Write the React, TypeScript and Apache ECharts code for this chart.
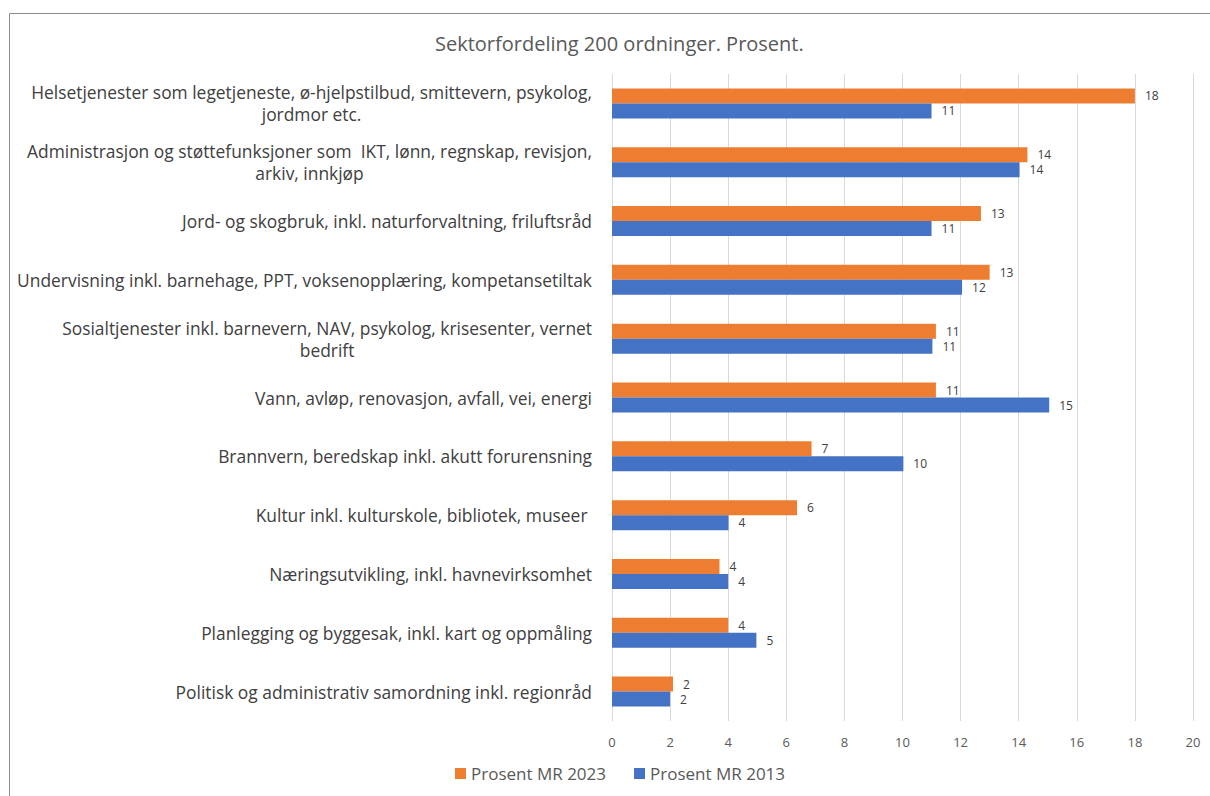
import React, { useEffect, useRef } from "react";
import * as echarts from "echarts";

const categories: string[] = [
  "Helsetjenester som legetjeneste, ø-hjelpstilbud, smittevern, psykolog,\njordmor etc.",
  "Administrasjon og støttefunksjoner som  IKT, lønn, regnskap, revisjon,\narkiv, innkjøp",
  "Jord- og skogbruk, inkl. naturforvaltning, friluftsråd",
  "Undervisning inkl. barnehage, PPT, voksenopplæring, kompetansetiltak",
  "Sosialtjenester inkl. barnevern, NAV, psykolog, krisesenter, vernet\nbedrift",
  "Vann, avløp, renovasjon, avfall, vei, energi",
  "Brannvern, beredskap inkl. akutt forurensning",
  "Kultur inkl. kulturskole, bibliotek, museer ",
  "Næringsutvikling, inkl. havnevirksomhet",
  "Planlegging og byggesak, inkl. kart og oppmåling",
  "Politisk og administrativ samordning inkl. regionråd",
];

const seriesNames: string[] = ["Prosent MR 2023", "Prosent MR 2013"];
const values2023: number[] = [18.0, 14.3, 12.7, 13.0, 11.15, 11.15, 6.87, 6.37, 3.7, 4.0, 2.1];
const values2013: number[] = [11.0, 14.03, 11.0, 12.05, 11.03, 15.05, 10.03, 4.01, 4.0, 4.97, 2.0];
const xTicks = { min: 0, max: 20, interval: 2 };
const title = "Sektorfordeling 200 ordninger. Prosent.";

const FONT = "'Open Sans', 'Noto Sans', sans-serif";

export default function App() {
  const ref = useRef<HTMLDivElement>(null);
  useEffect(() => {
    if (!ref.current) return;
    const chart = echarts.init(ref.current, undefined, { renderer: "svg" });
    const labelStyle = {
      show: true,
      position: "right" as const,
      distance: 10,
      color: "#404040",
      fontSize: 12,
      lineHeight: 13,
      fontFamily: FONT,
      formatter: (p: any) => String(Math.round(p.value)),
    };
    chart.setOption({
      animation: false,
      backgroundColor: "#ffffff",
      textStyle: { fontFamily: FONT },
      title: {
        text: title,
        left: 430,
        top: 28,
        textStyle: { color: "#595959", fontSize: 20, fontWeight: "normal", fontFamily: FONT },
      },
      graphic: [
        {
          type: "rect",
          shape: { x: 9.5, y: 13.5, width: 1400, height: 1000 },
          style: { fill: "none", stroke: "#8c8c8c", lineWidth: 1 },
          silent: true,
        },
      ],
      legend: {
        bottom: 9,
        left: 450,
        itemWidth: 11,
        itemHeight: 11,
        itemGap: 28,
        icon: "rect",
        data: seriesNames,
        textStyle: { color: "#595959", fontSize: 17, fontFamily: FONT },
      },
      grid: { left: 612, right: 17, top: 74, bottom: 75, containLabel: false },
      xAxis: {
        type: "value",
        min: xTicks.min,
        max: xTicks.max,
        interval: xTicks.interval,
        axisLine: { show: false },
        axisTick: { show: false },
        axisLabel: { color: "#595959", fontSize: 13, margin: 14, fontFamily: FONT },
        splitLine: { show: true, lineStyle: { color: "#d9d9d9", width: 1 } },
      },
      yAxis: {
        type: "category",
        data: categories,
        inverse: true,
        axisLine: { show: true, lineStyle: { color: "#d9d9d9" } },
        axisTick: { show: false },
        axisLabel: {
          margin: 20,
          align: "right",
          formatter: (v: string) => v.split("\n").map((l) => `{c|${l}}`).join("\n"),
          rich: {
            c: { align: "center", color: "#404040", fontSize: 17.4, fontFamily: FONT, lineHeight: 22 },
          },
        },
      },
      series: [
        {
          name: seriesNames[0],
          type: "bar",
          data: values2023,
          barWidth: 15,
          barGap: "0%",
          itemStyle: { color: "#ED7D31" },
          label: labelStyle,
        },
        {
          name: seriesNames[1],
          type: "bar",
          data: values2013,
          barWidth: 15,
          barGap: "0%",
          itemStyle: { color: "#4472C4" },
          label: labelStyle,
        },
      ],
    });
    return () => chart.dispose();
  }, []);
  return (
    <div
      ref={ref}
      style={{ position: "fixed", left: 0, top: 0, width: 1210, height: 796 }}
    />
  );
}
